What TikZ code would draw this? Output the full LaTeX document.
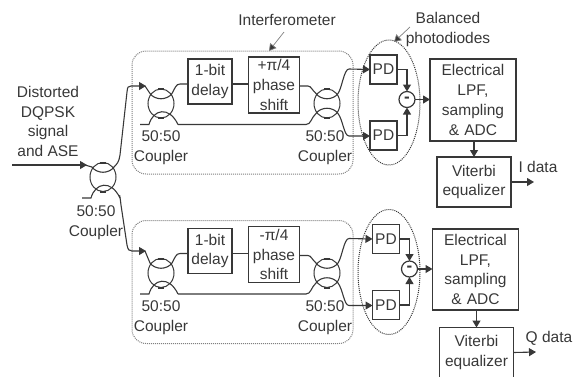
\documentclass[tikz,border=0pt]{standalone}
\usepackage{fontspec}
\setmainfont{Liberation Sans}
\usetikzlibrary{arrows.meta,calc}
\definecolor{ink}{gray}{0.22}
\tikzset{
 every node/.style={inner sep=0pt,outer sep=0pt,text=ink},
 lbl/.style={align=center,font=\fontsize{15.5}{19.7}\selectfont},
 blk/.style={draw=ink,line width=1.2pt,rectangle,minimum width=#1,align=center,font=\fontsize{15.5}{19.7}\selectfont},
 fibre/.style={draw=ink,line width=1.1pt},
 arr/.style={fibre,-{Triangle[length=7pt,width=8pt]}},
 panel/.style={draw=gray,line width=1pt,densely dotted,rounded corners=14pt},
 lobe/.style={draw=ink,line width=1pt,densely dotted},
 pointer/.style={draw=gray,line width=0.7pt,-{Triangle[length=7pt,width=8pt,fill=ink]}},
}
% common body of a coupler
\newcommand{\couplerbody}[3]{%
 \coordinate (#1) at (#2,#3);
 \coordinate (#1tl) at (#2-11,#3-10);
 \coordinate (#1tr) at (#2+11,#3-10);
 \draw[fibre,line width=1pt] (#2,#3) ellipse (13 and 14.5);
 \draw[fibre,line width=2pt] (#2-3,#3-14.5) -- (#2+3,#3-14.5);
 \draw[fibre,line width=2pt] (#2-3,#3+14.5) -- (#2+3,#3+14.5);
 \draw[fibre] (#1tl) .. controls (#2-6,#3-3) and (#2+6,#3-3) .. (#1tr);
}
% input coupler with terminated foot on the left
\newcommand{\coupler}[3]{%
 \couplerbody{#1}{#2}{#3}
 \coordinate (#1fl) at (#2-12,#3+21);
 \coordinate (#1fr) at (#2+17,#3+21);
 \draw[fibre] (#2-21,#3+21) -- (#1fl) .. controls (#2-8,#3+6) and (#2+8,#3+2) .. (#1fr);
}
% output coupler, symmetric lobes
\newcommand{\couplerout}[3]{%
 \couplerbody{#1}{#2}{#3}
 \coordinate (#1bl) at (#2-11,#3+10);
 \coordinate (#1br) at (#2+11,#3+10);
 \draw[fibre] (#1bl) .. controls (#2-6,#3+3) and (#2+6,#3+3) .. (#1br);
}
% one receiver branch: #1 prefix, #2 y offset, #3 x offset of right hand part, #4 sign label
\newcommand{\branch}[4]{%
 \draw[panel] (132,51+#2) rectangle (353,174+#2);
 \coupler{#1a}{161}{103.5+#2}
 \couplerout{#1b}{327}{103.5+#2}
 \node[blk=44pt,minimum height=45pt] (#1d) at (210,81.5+#2) {1-bit\\delay};
 \node[blk=51pt,minimum height=56pt] (#1p) at (274,85+#2) {#4\\phase\\shift};
 \node[lbl] (#1c1) at (161,148+#2) {50:50\\Coupler};
 \node[lbl] (#1c2) at (325,148+#2) {50:50\\Coupler};
 \draw[fibre] (#1atr) .. controls (175,88+#2) and (176,84+#2) .. (180,84+#2) -- (#1d.west |- 0,84+#2);
 \draw[fibre] (#1d.east |- 0,84+#2) -- (#1p.west |- 0,84+#2);
 \draw[fibre] (#1p.east |- 0,86+#2) -- (308,86+#2) .. controls (311,86+#2) and (312,90+#2) .. (#1btl);
 \draw[fibre] (#1afr) -- (306,124.5+#2) .. controls (311,124.5+#2) and (311,118+#2) .. (#1bbl);
 \node[blk=27pt,minimum height=29pt] (#1u) at (383.5+#3,69.5+#2) {PD};
 \node[blk=27pt,minimum height=29pt] (#1v) at (383.5+#3,135.5+#2) {PD};
 \draw[arr] (#1btr) .. controls (342,88+#2) and (344,69+#2) .. (349,69+#2) -- (#1u.west);
 \draw[arr] (#1bbr) .. controls (343,120+#2) and (344,136+#2) .. (349,136+#2) -- (#1v.west |- 0,136+#2);
 \node[circle,draw=ink,line width=1.2pt,minimum size=16pt,font=\bfseries\fontsize{17}{17}\selectfont] (#1m) at (407+#3,99.5+#2) {-};
 \draw[arr] (#1u.east) -| (#1m.north);
 \draw[arr] (#1v.east) -| (#1m.south);
 \draw[lobe] (389,102.5+#2) ellipse (31 and 62.5);
}
\begin{document}
\begin{tikzpicture}[x=1pt,y=-1pt]
\useasboundingbox (0,0) rectangle (582,376);
% main input coupler
\coupler{s}{103}{177}
\node[lbl] (title) at (48,121.5) {Distorted\\DQPSK\\signal\\and ASE};
\coordinate (in) at (12,165);
\node[lbl] (sc) at (96,223) {50:50\\Coupler};
\draw[arr] (in) -- (87,165);
\draw[fibre] (85,165) -- (stl);
\branch{t}{0}{0}{+π/4}
\branch{d}{169.5}{2.5}{-π/4}
% top right blocks
\node[blk=86pt,minimum height=82pt,text width=80pt] (e1) at (473,100) {Electrical\\LPF,\\sampling\\\& ADC};
\node[blk=74pt,minimum height=50pt] (v1) at (474,182) {Viterbi\\equalizer};
\draw[arr] (tm.east) -- (e1.west |- tm.east);
\draw[arr] (e1.south -| v1.north) -- (v1.north);
\coordinate (o1) at (534,182);
\draw[arr] (v1.east) -- (o1);
\node[lbl] (il) at (538,167) {I data};
% bottom right blocks
\node[blk=86pt,minimum height=81pt,text width=80pt] (e2) at (475.5,269.5) {Electrical\\LPF,\\sampling\\\& ADC};
\node[blk=74pt,minimum height=50pt] (v2) at (476.5,352.5) {Viterbi\\equalizer};
\draw[arr] (dm.east) -- (e2.west |- dm.east);
\draw[arr] (e2.south -| v2.north) -- (v2.north);
\coordinate (o2) at (536,352);
\draw[arr] (v2.east) -- (o2);
\node[lbl] (ql) at (549,338) {Q data};
% splitter outputs
\draw[arr] (str) .. controls (117,164) and (119,162) .. (120,155) -- (127,92) .. controls (127.5,87) and (128,86) .. (131,86) -- (146,86);
\draw[fibre] (145,86) -- (tatl);
\draw[arr] (sfr) .. controls (119,192) and (120,196) .. (121,205) -- (127,245) .. controls (128,250) and (129,251) .. (132,251) -- (146,251);
\draw[fibre] (145,251) -- (datl);
% annotations
\node[lbl] (ifm) at (287,20) {Interferometer};
\coordinate (ifa) at (284,32);
\coordinate (ifb) at (269,51);
\draw[pointer] (ifa) -- (ifb);
\node[lbl] (bal) at (448,29.5) {Balanced\\photodiodes};
\coordinate (ba) at (410,27);
\coordinate (bb) at (394,42);
\draw[pointer] (ba) -- (bb);
\end{tikzpicture}
\end{document}
